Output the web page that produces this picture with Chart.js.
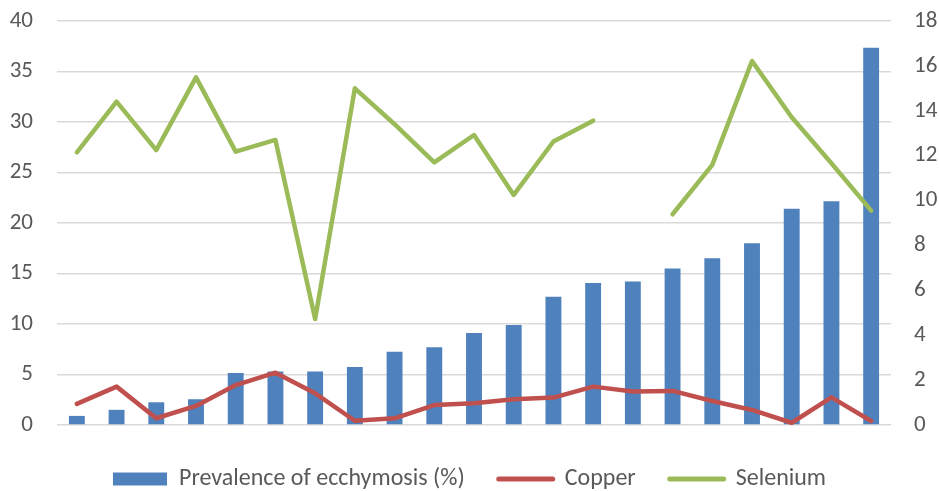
<!DOCTYPE html>
<html>
<head>
<meta charset="utf-8">
<script src="https://cdn.jsdelivr.net/npm/chart.js@4.4.0/dist/chart.umd.min.js"></script>
<style>
  html, body { margin: 0; padding: 0; background: #fff; }
  #wrap { width: 939px; height: 491px; }
</style>
</head>
<body>
<div id="wrap"><canvas id="chart" width="939" height="491"></canvas></div>
<script>
// categories (no labels shown on x axis)
const categories = ['', '', '', '', '', '', '', '', '', '', '', '', '', '', '', '', '', '', '', '', ''];

// Prevalence of ecchymosis (%) - left axis
const prevalence = [0.9, 1.5, 2.25, 2.55, 5.15, 5.3, 5.3, 5.75, 7.25, 7.7, 9.1, 9.9, 12.7, 14.05, 14.2, 15.5, 16.5, 18.0, 21.4, 22.15, 37.35];

// Copper - right axis
const copper = [0.94, 1.71, 0.3, 0.85, 1.78, 2.33, 1.41, 0.19, 0.3, 0.89, 0.97, 1.15, 1.22, 1.71, 1.49, 1.52, 1.07, 0.67, 0.1, 1.23, 0.18];

// Selenium - right axis (one value missing)
const selenium = [12.15, 14.41, 12.25, 15.49, 12.18, 12.7, 4.72, 15.0, 13.4, 11.7, 12.92, 10.25, 12.63, 13.56, null, 9.39, 11.59, 16.22, 13.71, 11.66, 9.55];

// tick setup
const leftTicks = { min: 0, max: 40, step: 5 };
const rightTicks = { min: 0, max: 18, step: 2 };

const fontFamily = 'Carlito, "Liberation Sans", Arial, sans-serif';
const tickFont = { family: fontFamily, size: 23 };
const tickColor = '#595959';
const gridColor = '#D9D9D9';

new Chart(document.getElementById('chart'), {
    data: {
        labels: categories,
        datasets: [
            {
                type: 'bar',
                label: 'Prevalence of ecchymosis (%)',
                data: prevalence,
                backgroundColor: '#4F81BD',
                yAxisID: 'y',
                categoryPercentage: 0.4,
                barPercentage: 1,
                order: 3
            },
            {
                type: 'line',
                label: 'Copper',
                data: copper,
                borderColor: '#C0504D',
                backgroundColor: '#C0504D',
                borderWidth: 4.5,
                pointRadius: 0,
                tension: 0,
                borderCapStyle: 'round',
                borderJoinStyle: 'round',
                yAxisID: 'y1',
                order: 1
            },
            {
                type: 'line',
                label: 'Selenium',
                data: selenium,
                borderColor: '#9BBB59',
                backgroundColor: '#9BBB59',
                borderWidth: 4.5,
                pointRadius: 0,
                tension: 0,
                spanGaps: false,
                borderCapStyle: 'round',
                borderJoinStyle: 'round',
                yAxisID: 'y1',
                order: 2
            }
        ]
    },
    options: {
        responsive: false,
        animation: false,
        layout: { padding: { top: 21, bottom: -10, left: 0, right: 0 } },
        plugins: {
            tooltip: { enabled: false },
            legend: {
                position: 'bottom',
                labels: {
                    font: { family: fontFamily, size: 24 },
                    color: tickColor,
                    usePointStyle: true,
                    pointStyleWidth: 54,
                    boxHeight: 13,
                    padding: 34,
                    generateLabels(chart) {
                        return chart.data.datasets.map((ds, i) => ({
                            text: ds.label,
                            fillStyle: ds.type === 'bar' ? ds.backgroundColor : ds.borderColor,
                            strokeStyle: ds.type === 'bar' ? ds.backgroundColor : ds.borderColor,
                            lineWidth: ds.type === 'bar' ? 0 : 5,
                            lineCap: 'round',
                            pointStyle: ds.type === 'bar' ? 'rect' : 'line',
                            fontColor: tickColor,
                            hidden: false,
                            datasetIndex: i
                        }));
                    }
                }
            }
        },
        scales: {
            x: {
                grid: { display: false },
                border: { display: false },
                ticks: { display: false },
                afterFit(scale) { scale.height = 8; }
            },
            y: {
                position: 'left',
                min: leftTicks.min,
                max: leftTicks.max,
                ticks: { stepSize: leftTicks.step, font: tickFont, color: tickColor, padding: 24 },
                grid: { color: gridColor, lineWidth: 1.5, drawTicks: false },
                border: { display: false },
                afterFit(scale) { scale.width = 57; scale.paddingTop = 0; scale.paddingBottom = 0; }
            },
            y1: {
                position: 'right',
                min: rightTicks.min,
                max: rightTicks.max,
                ticks: { stepSize: rightTicks.step, font: tickFont, color: tickColor, padding: 23 },
                grid: { drawOnChartArea: false, drawTicks: false },
                border: { display: false },
                afterFit(scale) { scale.width = 48; scale.paddingTop = 0; scale.paddingBottom = 0; }
            }
        }
    }
});
</script>
</body>
</html>
